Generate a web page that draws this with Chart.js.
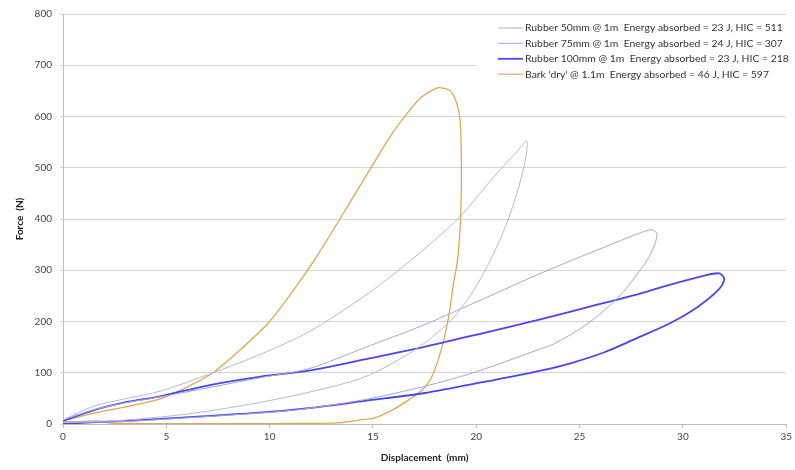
<!DOCTYPE html>
<html>
<head>
<meta charset="utf-8">
<script src="https://cdn.jsdelivr.net/npm/chart.js@4.4.1/dist/chart.umd.min.js"></script>
<style>
  html, body { margin: 0; padding: 0; background: #fff; }
  #wrap { width: 795px; height: 470px; }
</style>
</head>
<body>
<div id="wrap"><canvas id="chart"></canvas></div>
<script>
// tick labels
const xTicks = [0, 5, 10, 15, 20, 25, 30, 35];
const yTicks = [0, 100, 200, 300, 400, 500, 600, 700, 800];

// series labels
const labels = [
    "Rubber 50mm @ 1m  Energy absorbed = 23 J, HIC = 511",
    "Rubber 75mm @ 1m  Energy absorbed = 24 J, HIC = 307",
    "Rubber 100mm @ 1m  Energy absorbed = 23 J, HIC = 218",
    "Bark 'dry' @ 1.1m  Energy absorbed = 46 J, HIC = 597"
];

// Rubber 50mm (loading then unloading, mm / N)
const r50Disp  = [0, 1.5, 3.1, 4.7, 7.2, 9.5, 11.9, 14.6, 16.7, 19.1, 20.8, 22.0, 22.45, 22.35, 22.0, 21.6, 21.1, 20.5, 19.7, 18.7, 17.0, 14.6, 11.9, 9.5, 6.3, 3.1, 0];
const r50Force = [8, 35, 50, 64, 99, 135, 180, 250, 315, 400, 480, 533, 552, 510, 455, 405, 355, 305, 250, 199, 144, 92, 62, 42, 21, 8, 3];

// Rubber 75mm
const r75Disp  = [0, 1.5, 3.1, 4.7, 7.2, 9.5, 11.9, 14.6, 17.45, 20.5, 23.0, 24.6, 26.2, 27.8, 28.5, 28.75, 28.45, 27.8, 26.9, 25.4, 23.8, 23.0, 20.0, 17.45, 14.5, 11.4, 9.0, 6.0, 3.0, 0];
const r75Force = [8, 28, 42, 53, 72, 90, 108, 149, 193, 247, 292, 319, 345, 371, 379, 370, 332, 293, 248, 196, 157, 145, 102, 73, 47, 28, 20, 12, 5, 3];

// Rubber 100mm
const r100Disp  = [0, 1.5, 3.1, 4.7, 7.1, 9.5, 11.9, 14.6, 17.45, 20.5, 23.0, 25.4, 27.8, 29.4, 31.0, 31.76, 32.0, 31.7, 30.7, 29.4, 27.8, 26.2, 24.6, 23.0, 20.5, 17.45, 14.6, 11.9, 9.5, 6.3, 3.1, 0];
const r100Force = [6, 27, 43, 54, 76, 92, 104, 126, 150, 179, 203, 228, 253, 272, 289, 294, 283, 261, 228, 197, 168, 140, 119, 103, 83, 60, 45, 31, 22, 14, 6, 1];

// Bark 'dry'
const barkDisp  = [0, 1.5, 3.1, 4.7, 6.0, 7.25, 8.5, 10.0, 11.1, 12.2, 13.4, 14.8, 15.9, 16.6, 17.3, 18.0, 18.3, 18.74, 19.06, 19.22, 19.28, 19.25, 19.1, 18.9, 18.66, 18.34, 17.85, 17.37, 16.73, 15.93, 15.1, 14.4, 13.8, 13.3, 11.4, 8.0, 5.0, 3.0, 2.2, 1.7, 1.0, 0];
const barkForce = [6, 21, 34, 49, 72, 100, 142, 200, 258, 322, 400, 493, 565, 603, 636, 654, 656, 650, 625, 592, 507, 410, 322, 274, 209, 150, 92, 66, 47, 27, 12, 8, 4.5, 2, 1, 0.5, 0.5, 1, 2, 6, 5, 4];

const colors = ['#b3b8d8', '#a0a6e4', '#4646f2', '#e8a54e'];
const widths = [1, 1, 1.8, 1.3];
const legendColors = ['#c0c1dc', '#a2b8f2', '#4a4af2', '#e8ad6c'];

function toPoints(xs, ys) {
    return xs.map((x, i) => ({ x: x, y: ys[i] }));
}

const series = [
    toPoints(r50Disp, r50Force),
    toPoints(r75Disp, r75Force),
    toPoints(r100Disp, r100Force),
    toPoints(barkDisp, barkForce)
];

const FONT = "Lato, 'Open Sans', sans-serif";

// 범례 (그래프 위 흰 상자)
const legendBox = {
    id: 'legendBox',
    afterDraw(chart) {
        const ctx = chart.ctx;
        ctx.save();
        ctx.fillStyle = '#ffffff';
        ctx.fillRect(476, 17, 319, 69);
        ctx.font = '10.4px ' + FONT;
        ctx.textBaseline = 'middle';
        chart.data.datasets.forEach((ds, i) => {
            const y = 28 + i * 15.4;
            ctx.strokeStyle = legendColors[i];
            ctx.lineWidth = i === 2 ? 1.8 : 1.3;
            ctx.beginPath();
            ctx.moveTo(498, y);
            ctx.lineTo(523, y);
            ctx.stroke();
            ctx.fillStyle = '#333';
            ctx.fillText(ds.label, 525, y);
        });
        ctx.restore();
    }
};

new Chart(document.getElementById('chart'), {
    type: 'scatter',
    data: {
        datasets: series.map((pts, i) => ({
            label: labels[i],
            data: pts,
            showLine: true,
            borderColor: colors[i],
            backgroundColor: colors[i],
            borderWidth: widths[i],
            pointRadius: 0,
            tension: 0.3
        }))
    },
    options: {
        responsive: true,
        maintainAspectRatio: false,
        animation: false,
        layout: { padding: { left: 0, right: 6, top: 12, bottom: 0 } },
        plugins: {
            legend: { display: false },
            tooltip: { enabled: false }
        },
        scales: {
            x: {
                type: 'linear',
                min: 0,
                max: 35,
                afterFit: s => { s.height = 46; },
                afterBuildTicks: s => { s.ticks = xTicks.map(v => ({ value: v })); },
                ticks: { font: { family: FONT, size: 10 }, color: '#444', padding: 3 },
                grid: { drawOnChartArea: false, tickLength: 4, color: '#bdbdbd' },
                border: { color: '#bdbdbd' },
                title: {
                    display: true,
                    text: 'Displacement  (mm)',
                    font: { family: FONT, size: 10, weight: 'bold' },
                    color: '#222',
                    padding: { top: 0, bottom: 6 }
                }
            },
            y: {
                min: 0,
                max: 800,
                afterFit: s => { s.width = 63; },
                afterBuildTicks: s => { s.ticks = yTicks.map(v => ({ value: v })); },
                ticks: { font: { family: FONT, size: 10 }, color: '#444', padding: 8 },
                grid: { color: '#d4d4d4', tickLength: 3 },
                border: { color: '#bdbdbd' },
                title: {
                    display: true,
                    text: 'Force  (N)',
                    font: { family: FONT, size: 10, weight: 'bold' },
                    color: '#222',
                    padding: { top: 14, bottom: 0 }
                }
            }
        }
    },
    plugins: [legendBox]
});
</script>
</body>
</html>
